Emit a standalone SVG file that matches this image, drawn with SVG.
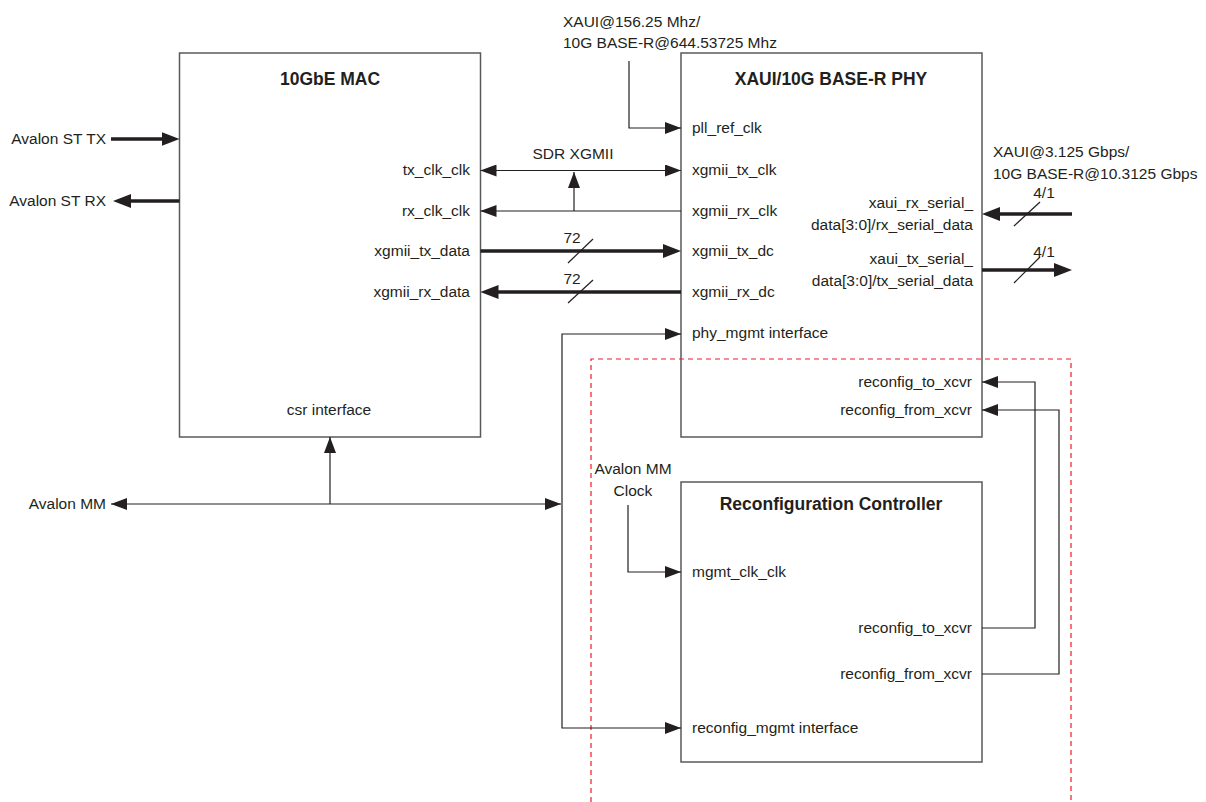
<svg xmlns="http://www.w3.org/2000/svg" width="1206" height="802" viewBox="0 0 1206 802">
<style>
text{font-family:"Liberation Sans",Arial,sans-serif;font-size:15.5px;fill:#231f20}
.t{font-weight:bold;font-size:17.5px;text-anchor:middle}
.r{text-anchor:end}
.m{text-anchor:middle}
.box{fill:#fff;stroke:#58595b;stroke-width:1.5}
.c{fill:none;stroke:#231f20;stroke-width:1.2}
.k{fill:none;stroke:#231f20;stroke-width:3.4}
.a{marker-end:url(#ah)}
.as{marker-start:url(#ah)}
.ka{marker-end:url(#kh)}
.ks{marker-start:url(#kh)}
</style>
<defs>
<marker id="ah" markerUnits="userSpaceOnUse" markerWidth="16" markerHeight="12" refX="16" refY="6" orient="auto-start-reverse"><path d="M0,0 L16,6 L0,12 z" fill="#231f20"/></marker>
<marker id="kh" markerUnits="userSpaceOnUse" markerWidth="18" markerHeight="14" refX="10" refY="7" orient="auto-start-reverse"><path d="M0,0 L18,7 L0,14 z" fill="#231f20"/></marker>
</defs>
<rect width="1206" height="802" fill="#fff"/>
<g id="mac">
<rect class="box" x="179.5" y="53" width="301" height="384"/>
<text class="t" x="330" y="85">10GbE MAC</text>
<text class="r" x="470" y="175">tx_clk_clk</text>
<text class="r" x="470" y="216">rx_clk_clk</text>
<text class="r" x="470" y="256">xgmii_tx_data</text>
<text class="r" x="470" y="297">xgmii_rx_data</text>
<text class="m" x="329" y="415">csr interface</text>
</g>
<g id="phy">
<rect class="box" x="681" y="53" width="301" height="384"/>
<text class="t" x="831" y="85">XAUI/10G BASE-R PHY</text>
<text x="692" y="133">pll_ref_clk</text>
<text x="692" y="175">xgmii_tx_clk</text>
<text x="692" y="216">xgmii_rx_clk</text>
<text x="692" y="256">xgmii_tx_dc</text>
<text x="692" y="297">xgmii_rx_dc</text>
<text x="692" y="338">phy_mgmt interface</text>
<text class="r" x="973" y="208">xaui_rx_serial_</text>
<text class="r" x="973" y="230">data[3:0]/rx_serial_data</text>
<text class="r" x="973" y="264">xaui_tx_serial_</text>
<text class="r" x="973" y="286">data[3:0]/tx_serial_data</text>
<text class="r" x="972" y="387">reconfig_to_xcvr</text>
<text class="r" x="972" y="415">reconfig_from_xcvr</text>
</g>
<g id="rc">
<rect class="box" x="681" y="482" width="301" height="280"/>
<text class="t" x="831" y="510">Reconfiguration Controller</text>
<text x="692" y="577">mgmt_clk_clk</text>
<text class="r" x="972" y="633">reconfig_to_xcvr</text>
<text class="r" x="972" y="679">reconfig_from_xcvr</text>
<text x="692" y="733">reconfig_mgmt interface</text>
</g>
<path id="region" d="M591,802 V359 H1071 V802" fill="none" stroke="#ed1c24" stroke-width="1.2" stroke-dasharray="5,4"/>
<g id="labels">
<text class="r" x="106" y="144">Avalon ST TX</text>
<text class="r" x="106" y="206">Avalon ST RX</text>
<text class="r" x="106" y="509">Avalon MM</text>
<text x="563" y="27">XAUI@156.25 Mhz/</text>
<text x="563" y="48">10G BASE-R@644.53725 Mhz</text>
<text class="m" x="573" y="159">SDR XGMII</text>
<text class="m" x="572" y="243">72</text>
<text class="m" x="572" y="284">72</text>
<text x="993" y="157">XAUI@3.125 Gbps/</text>
<text x="993" y="179">10G BASE-R@10.3125 Gbps</text>
<text class="m" x="1044" y="198">4/1</text>
<text class="m" x="1044" y="257">4/1</text>
<text class="m" x="633" y="474">Avalon MM</text>
<text class="m" x="633" y="496">Clock</text>
</g>
<g id="connectors">
<path class="k ka" d="M111,139 H171.5"/>
<path class="k ka" d="M179.5,201 H121"/>
<path class="c a as" d="M480.5,170.5 H681"/>
<path class="c a" d="M681,211 H480.5"/>
<path class="c a" d="M574,211 V172"/>
<path class="k ka" d="M480.5,251 H673"/>
<path class="k ka" d="M681,292 H488.5"/>
<path class="c" d="M568,263 L593,239"/>
<path class="c" d="M568,303 L593,280"/>
<path class="c a" d="M629,61 V128 H681"/>
<path class="c a as" d="M111,504 H561"/>
<path class="c a" d="M330,504 V437"/>
<path class="c a as" d="M681,334 H562 V728 H681"/>
<path class="c a" d="M628,505 V572 H681"/>
<path class="c a" d="M982,628 H1035 V382 H982"/>
<path class="c a" d="M982,674 H1059 V410 H982"/>
<path class="k ka" d="M1072,214 H990"/>
<path class="k ka" d="M982,270 H1064"/>
<path class="c" d="M1014,226 L1040,202"/>
<path class="c" d="M1014,283 L1040,257"/>
</g>
</svg>
